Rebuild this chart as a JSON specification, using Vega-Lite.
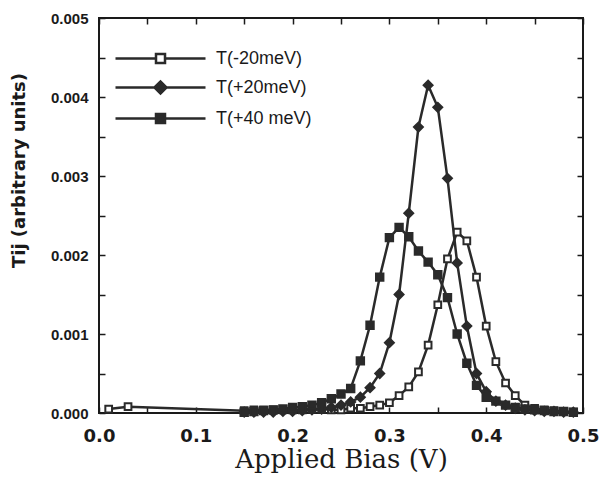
{
  "$schema": "https://vega.github.io/schema/vega-lite/v6.json",
  "autosize": {"type": "none"},
  "width": 484,
  "height": 395,
  "padding": {"left": 99, "top": 18, "right": 17, "bottom": 70},
  "background": "white",
  "data": {"values": [
    {"series": "T(-20meV)", "x": 0.01, "y": 0.00005},
    {"series": "T(-20meV)", "x": 0.03, "y": 0.00008},
    {"series": "T(-20meV)", "x": 0.15, "y": 0.00003},
    {"series": "T(-20meV)", "x": 0.16, "y": 0.00004},
    {"series": "T(-20meV)", "x": 0.17, "y": 0.00004},
    {"series": "T(-20meV)", "x": 0.18, "y": 0.00004},
    {"series": "T(-20meV)", "x": 0.19, "y": 0.00004},
    {"series": "T(-20meV)", "x": 0.20, "y": 0.00004},
    {"series": "T(-20meV)", "x": 0.21, "y": 0.00004},
    {"series": "T(-20meV)", "x": 0.22, "y": 0.00005},
    {"series": "T(-20meV)", "x": 0.23, "y": 0.00005},
    {"series": "T(-20meV)", "x": 0.24, "y": 0.00004},
    {"series": "T(-20meV)", "x": 0.25, "y": 0.00004},
    {"series": "T(-20meV)", "x": 0.26, "y": 0.00006},
    {"series": "T(-20meV)", "x": 0.27, "y": 0.00006},
    {"series": "T(-20meV)", "x": 0.28, "y": 0.00008},
    {"series": "T(-20meV)", "x": 0.29, "y": 0.0001},
    {"series": "T(-20meV)", "x": 0.30, "y": 0.00013},
    {"series": "T(-20meV)", "x": 0.31, "y": 0.00022},
    {"series": "T(-20meV)", "x": 0.32, "y": 0.00033},
    {"series": "T(-20meV)", "x": 0.33, "y": 0.00052},
    {"series": "T(-20meV)", "x": 0.34, "y": 0.00086},
    {"series": "T(-20meV)", "x": 0.35, "y": 0.00137},
    {"series": "T(-20meV)", "x": 0.36, "y": 0.00195},
    {"series": "T(-20meV)", "x": 0.37, "y": 0.00229},
    {"series": "T(-20meV)", "x": 0.38, "y": 0.00218},
    {"series": "T(-20meV)", "x": 0.39, "y": 0.00172},
    {"series": "T(-20meV)", "x": 0.40, "y": 0.0011},
    {"series": "T(-20meV)", "x": 0.41, "y": 0.00065},
    {"series": "T(-20meV)", "x": 0.42, "y": 0.00038},
    {"series": "T(-20meV)", "x": 0.43, "y": 0.00022},
    {"series": "T(-20meV)", "x": 0.44, "y": 0.0001},
    {"series": "T(-20meV)", "x": 0.45, "y": 0.00006},
    {"series": "T(-20meV)", "x": 0.46, "y": 0.00004},
    {"series": "T(-20meV)", "x": 0.47, "y": 0.00003},
    {"series": "T(-20meV)", "x": 0.48, "y": 0.00002},
    {"series": "T(-20meV)", "x": 0.49, "y": 0.00001},

    {"series": "T(+20meV)", "x": 0.15, "y": 0.00001},
    {"series": "T(+20meV)", "x": 0.16, "y": 0.00001},
    {"series": "T(+20meV)", "x": 0.17, "y": 0.00001},
    {"series": "T(+20meV)", "x": 0.18, "y": 0.00001},
    {"series": "T(+20meV)", "x": 0.19, "y": 0.00002},
    {"series": "T(+20meV)", "x": 0.20, "y": 0.00002},
    {"series": "T(+20meV)", "x": 0.21, "y": 0.00003},
    {"series": "T(+20meV)", "x": 0.22, "y": 0.00004},
    {"series": "T(+20meV)", "x": 0.23, "y": 0.00005},
    {"series": "T(+20meV)", "x": 0.24, "y": 0.00007},
    {"series": "T(+20meV)", "x": 0.25, "y": 0.0001},
    {"series": "T(+20meV)", "x": 0.26, "y": 0.00014},
    {"series": "T(+20meV)", "x": 0.27, "y": 0.0002},
    {"series": "T(+20meV)", "x": 0.28, "y": 0.00032},
    {"series": "T(+20meV)", "x": 0.29, "y": 0.0005},
    {"series": "T(+20meV)", "x": 0.30, "y": 0.00089},
    {"series": "T(+20meV)", "x": 0.31, "y": 0.0015},
    {"series": "T(+20meV)", "x": 0.32, "y": 0.00253},
    {"series": "T(+20meV)", "x": 0.33, "y": 0.00362},
    {"series": "T(+20meV)", "x": 0.34, "y": 0.00415},
    {"series": "T(+20meV)", "x": 0.35, "y": 0.00387},
    {"series": "T(+20meV)", "x": 0.36, "y": 0.00297},
    {"series": "T(+20meV)", "x": 0.37, "y": 0.0019},
    {"series": "T(+20meV)", "x": 0.38, "y": 0.0011},
    {"series": "T(+20meV)", "x": 0.39, "y": 0.0005},
    {"series": "T(+20meV)", "x": 0.40, "y": 0.00027},
    {"series": "T(+20meV)", "x": 0.41, "y": 0.00015},
    {"series": "T(+20meV)", "x": 0.42, "y": 0.0001},
    {"series": "T(+20meV)", "x": 0.43, "y": 0.00006},
    {"series": "T(+20meV)", "x": 0.44, "y": 0.00004},
    {"series": "T(+20meV)", "x": 0.45, "y": 0.00003},
    {"series": "T(+20meV)", "x": 0.46, "y": 0.00002},
    {"series": "T(+20meV)", "x": 0.47, "y": 0.00002},
    {"series": "T(+20meV)", "x": 0.48, "y": 0.00001},
    {"series": "T(+20meV)", "x": 0.49, "y": 0.00001},

    {"series": "T(+40 meV)", "x": 0.15, "y": 0.00001},
    {"series": "T(+40 meV)", "x": 0.16, "y": 0.00002},
    {"series": "T(+40 meV)", "x": 0.17, "y": 0.00003},
    {"series": "T(+40 meV)", "x": 0.18, "y": 0.00004},
    {"series": "T(+40 meV)", "x": 0.19, "y": 0.00005},
    {"series": "T(+40 meV)", "x": 0.20, "y": 0.00007},
    {"series": "T(+40 meV)", "x": 0.21, "y": 0.00008},
    {"series": "T(+40 meV)", "x": 0.22, "y": 0.0001},
    {"series": "T(+40 meV)", "x": 0.23, "y": 0.00013},
    {"series": "T(+40 meV)", "x": 0.24, "y": 0.00018},
    {"series": "T(+40 meV)", "x": 0.25, "y": 0.00024},
    {"series": "T(+40 meV)", "x": 0.26, "y": 0.00031},
    {"series": "T(+40 meV)", "x": 0.27, "y": 0.00066},
    {"series": "T(+40 meV)", "x": 0.28, "y": 0.00111},
    {"series": "T(+40 meV)", "x": 0.29, "y": 0.00172},
    {"series": "T(+40 meV)", "x": 0.30, "y": 0.00222},
    {"series": "T(+40 meV)", "x": 0.31, "y": 0.00235},
    {"series": "T(+40 meV)", "x": 0.32, "y": 0.00223},
    {"series": "T(+40 meV)", "x": 0.33, "y": 0.00205},
    {"series": "T(+40 meV)", "x": 0.34, "y": 0.00191},
    {"series": "T(+40 meV)", "x": 0.35, "y": 0.00175},
    {"series": "T(+40 meV)", "x": 0.36, "y": 0.00146},
    {"series": "T(+40 meV)", "x": 0.37, "y": 0.001},
    {"series": "T(+40 meV)", "x": 0.38, "y": 0.00063},
    {"series": "T(+40 meV)", "x": 0.39, "y": 0.00035},
    {"series": "T(+40 meV)", "x": 0.40, "y": 0.0002},
    {"series": "T(+40 meV)", "x": 0.41, "y": 0.00015},
    {"series": "T(+40 meV)", "x": 0.42, "y": 0.0001},
    {"series": "T(+40 meV)", "x": 0.43, "y": 0.00007},
    {"series": "T(+40 meV)", "x": 0.44, "y": 0.00005},
    {"series": "T(+40 meV)", "x": 0.45, "y": 0.00004},
    {"series": "T(+40 meV)", "x": 0.46, "y": 0.00003},
    {"series": "T(+40 meV)", "x": 0.47, "y": 0.00002},
    {"series": "T(+40 meV)", "x": 0.48, "y": 0.00002},
    {"series": "T(+40 meV)", "x": 0.49, "y": 0.00001}
  ]},
  "layer": [
    {
      "mark": {"type": "line", "color": "#2a2a2a", "strokeWidth": 2.5},
      "encoding": {
        "x": {"field": "x", "type": "quantitative", "scale": {"domain": [0, 0.5], "nice": false},
          "axis": {"orient": "bottom", "title": "Applied Bias (V)", "values": [0,0.05,0.1,0.15,0.2,0.25,0.3,0.35,0.4,0.45,0.5],
            "labelExpr": "round(datum.value*20) % 2 == 0 ? format(datum.value, '.1f') : ''",
            "labelPadding": 20, "labelFont": "DejaVu Sans", "labelFontSize": 18,
            "titleFont": "DejaVu Serif", "titleFontSize": 26, "titleFontWeight": "normal", "titlePadding": 1}},
        "y": {"field": "y", "type": "quantitative", "scale": {"domain": [0, 0.005], "nice": false},
          "axis": {"orient": "left", "title": "Tij (arbitrary units)", "values": [0,0.0005,0.001,0.0015,0.002,0.0025,0.003,0.0035,0.004,0.0045,0.005],
            "labelExpr": "round(datum.value*2000) % 2 == 0 ? format(datum.value, '.3f') : ''",
            "labelPadding": 17,
            "titleFont": "DejaVu Sans", "titleFontSize": 18, "titleFontWeight": "bold", "titleX": -71, "titleY": 152}},
        "detail": {"field": "series"}
      }
    },
    {
      "transform": [{"filter": "datum.series == 'T(-20meV)'"}],
      "mark": {"type": "point", "shape": "square", "filled": true, "fill": "white", "stroke": "#2a2a2a", "strokeWidth": 2, "size": 45, "opacity": 1},
      "encoding": {
        "x": {"field": "x", "type": "quantitative",
          "axis": {"orient": "top", "title": null, "labels": false, "values": [0,0.05,0.1,0.15,0.2,0.25,0.3,0.35,0.4,0.45,0.5]}},
        "y": {"field": "y", "type": "quantitative",
          "axis": {"orient": "right", "title": null, "labels": false, "values": [0,0.0005,0.001,0.0015,0.002,0.0025,0.003,0.0035,0.004,0.0045,0.005]}}
      }
    },
    {
      "transform": [{"filter": "datum.series == 'T(+20meV)'"}],
      "mark": {"type": "point", "shape": "diamond", "filled": true, "fill": "#2a2a2a", "stroke": "#2a2a2a", "strokeWidth": 2, "size": 80, "opacity": 1},
      "encoding": {
        "x": {"field": "x", "type": "quantitative", "axis": null},
        "y": {"field": "y", "type": "quantitative", "axis": null}
      }
    },
    {
      "transform": [{"filter": "datum.series == 'T(+40 meV)'"}],
      "mark": {"type": "point", "shape": "square", "filled": true, "fill": "#2a2a2a", "stroke": "#2a2a2a", "strokeWidth": 2, "size": 55, "opacity": 1},
      "encoding": {
        "x": {"field": "x", "type": "quantitative", "axis": null},
        "y": {"field": "y", "type": "quantitative", "axis": null}
      }
    },
    {
      "transform": [{"filter": "datum.x < 0"}],
      "mark": {"type": "point", "filled": true, "strokeWidth": 2.5, "size": 400, "opacity": 1},
      "encoding": {
        "x": {"field": "x", "type": "quantitative", "axis": null},
        "y": {"field": "y", "type": "quantitative", "axis": null},
        "shape": {"field": "series", "type": "nominal",
          "scale": {"domain": ["T(-20meV)", "T(+20meV)", "T(+40 meV)"],
            "range": ["M-4.5,0H-0.45M0.45,0H4.5M-0.45,-0.45H0.45V0.45H-0.45Z", "M-4.5,0H-0.6M0.6,0H4.5M-0.6,0L0,-0.6L0.6,0L0,0.6Z", "M-4.5,0H-0.45M0.45,0H4.5M-0.45,-0.45H0.45V0.45H-0.45Z"]},
          "legend": {"title": null, "orient": "none", "legendX": 50, "legendY": 29, "labelFont": "Liberation Sans", "labelFontSize": 18, "labelColor": "#1a1a1a",
            "symbolSize": 400, "labelOffset": 44, "rowPadding": 8, "symbolStrokeWidth": 2.5}},
        "fill": {"field": "series", "type": "nominal",
          "scale": {"domain": ["T(-20meV)", "T(+20meV)", "T(+40 meV)"], "range": ["white", "#2a2a2a", "#2a2a2a"]},
          "legend": {"title": null, "orient": "none", "legendX": 50, "legendY": 29, "labelFont": "Liberation Sans", "labelFontSize": 18, "labelColor": "#1a1a1a",
            "symbolSize": 400, "labelOffset": 44, "rowPadding": 8, "symbolStrokeWidth": 2.5}},
        "stroke": {"field": "series", "type": "nominal",
          "scale": {"domain": ["T(-20meV)", "T(+20meV)", "T(+40 meV)"], "range": ["#2a2a2a", "#2a2a2a", "#2a2a2a"]},
          "legend": {"title": null, "orient": "none", "legendX": 50, "legendY": 29, "labelFont": "Liberation Sans", "labelFontSize": 18, "labelColor": "#1a1a1a",
            "symbolSize": 400, "labelOffset": 44, "rowPadding": 8, "symbolStrokeWidth": 2.5}}
      }
    }
  ],
  "resolve": {"axis": {"x": "independent", "y": "independent"}},
  "config": {
    "view": {"stroke": "#1a1a1a", "strokeWidth": 2},
    "axis": {"domain": false, "grid": false, "tickColor": "#1a1a1a", "tickWidth": 1.5, "tickSize": -6,
      "labelFont": "Liberation Sans", "labelFontSize": 15, "labelColor": "#1a1a1a", "labelFontWeight": "bold",
      "labelOverlap": false, "labelFlush": false, "titleColor": "#1a1a1a"}
  }
}
